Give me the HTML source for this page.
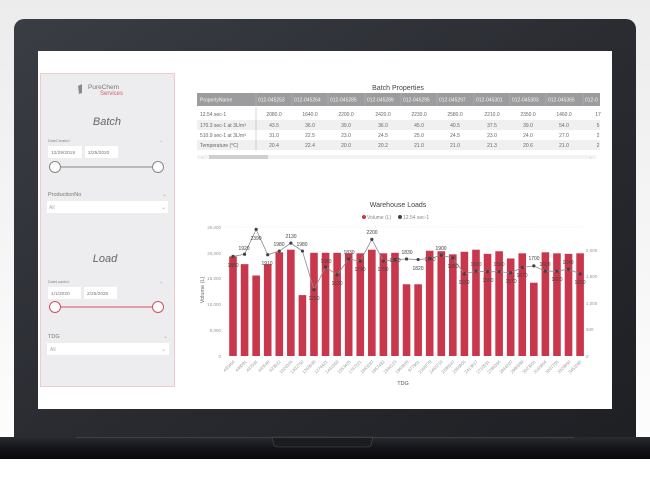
<!DOCTYPE html>
<html><head><meta charset="utf-8"><style>
body{margin:0;width:650px;height:491px;overflow:hidden;background:#fff;font-family:"Liberation Sans",sans-serif}
</style></head><body>
<svg width="650" height="491" viewBox="0 0 650 491" xmlns="http://www.w3.org/2000/svg" font-family="Liberation Sans, sans-serif">
<defs>
<linearGradient id="bg" x1="0" y1="0" x2="0" y2="1"><stop offset="0" stop-color="#ececec"/><stop offset="1" stop-color="#ffffff"/></linearGradient>
<linearGradient id="bz" x1="0" y1="0" x2="1" y2="1"><stop offset="0" stop-color="#3a3d44"/><stop offset="0.5" stop-color="#2a2c32"/><stop offset="1" stop-color="#1e1f23"/></linearGradient>
<linearGradient id="base" x1="0" y1="0" x2="0" y2="1"><stop offset="0" stop-color="#2a2b30"/><stop offset="0.5" stop-color="#141518"/><stop offset="1" stop-color="#0a0a0c"/></linearGradient>
</defs>
<rect width="650" height="491" fill="url(#bg)"/>
<rect x="0" y="460" width="650" height="31" fill="#fff"/>
<rect x="14" y="19" width="622" height="430" rx="10" fill="url(#bz)"/>
<rect x="38" y="51" width="574" height="358" fill="#ffffff"/>
<rect x="0" y="437" width="650" height="22" fill="url(#base)"/>
<path d="M272 437 L373 437 L371 445 Q370 447 366 447 L279 447 Q275 447 274 445 Z" fill="#1c1d21" stroke="#4a4c52" stroke-width="0.6"/>
<line x1="76" y1="437.5" x2="574" y2="437.5" stroke="#55575d" stroke-width="0.6"/>

<rect x="40.5" y="73.5" width="134" height="313" fill="#ededef" stroke="#f2c9cf" stroke-width="1"/>
<path d="M78 86 l4 -2 v9 l-3 1 z" fill="#8a8a8a"/>
<text x="88" y="89" font-size="6.5" fill="#777">PureChem</text>
<text x="100" y="95" font-size="6" fill="#d06070">Services</text>
<text x="107" y="125" font-size="11" font-style="italic" fill="#666" text-anchor="middle">Batch</text>
<text x="48" y="142" font-size="3.8" fill="#888">DateCreated</text>
<text x="159" y="142" font-size="5" fill="#aaa">⌄</text>
<rect x="48" y="146" width="34" height="12" fill="#fff"/><text x="51" y="154" font-size="4.8" fill="#777">12/29/2019</text>
<rect x="85" y="146" width="33" height="12" fill="#fff"/><text x="88" y="154" font-size="4.8" fill="#777">2/25/2020</text>
<line x1="55" y1="167" x2="158" y2="167" stroke="#888" stroke-width="1"/>
<circle cx="55" cy="167" r="5.5" fill="#fff" stroke="#888"/><circle cx="158" cy="167" r="5.5" fill="#fff" stroke="#888"/>
<text x="48" y="196" font-size="5.5" fill="#777">ProductionNo</text>
<text x="162" y="196" font-size="6" fill="#aaa">⌄</text>
<rect x="47" y="201" width="121" height="12" fill="#fff"/><text x="49" y="209" font-size="5" fill="#aaa">All</text>
<text x="161" y="209" font-size="6" fill="#aaa">⌄</text>
<text x="105" y="262" font-size="11" font-style="italic" fill="#666" text-anchor="middle">Load</text>
<text x="48" y="283" font-size="3.8" fill="#888">DateLoaded</text>
<text x="159" y="283" font-size="5" fill="#aaa">⌄</text>
<rect x="48" y="287" width="33" height="12" fill="#fff"/><text x="51" y="295" font-size="4.8" fill="#777">1/1/2020</text>
<rect x="84" y="287" width="33" height="12" fill="#fff"/><text x="87" y="295" font-size="4.8" fill="#777">2/25/2020</text>
<line x1="55" y1="307" x2="158" y2="307" stroke="#d05060" stroke-width="1"/>
<circle cx="55" cy="307" r="5.5" fill="#fff" stroke="#d05060"/><circle cx="158" cy="307" r="5.5" fill="#fff" stroke="#d05060"/>
<text x="48" y="338" font-size="5.5" fill="#777">TDG</text>
<text x="163" y="338" font-size="6" fill="#aaa">⌄</text>
<rect x="47" y="343" width="122" height="12" fill="#fff"/><text x="50" y="351" font-size="5" fill="#aaa">All</text>
<text x="161" y="351" font-size="6" fill="#aaa">⌄</text>

<text x="398" y="90" font-size="7" fill="#444" text-anchor="middle">Batch Properties</text>
<rect x="197" y="93" width="403" height="13" fill="#9c9c9e"/>
<g font-size="5" fill="#f4f4f4">
<text x="200" y="101.5">PropertyName</text>
<text x="258" y="101.5">012-045253</text><text x="294" y="101.5">012-045264</text><text x="330" y="101.5">012-045285</text><text x="367" y="101.5">012-045289</text><text x="403" y="101.5">012-045295</text><text x="439" y="101.5">012-045297</text><text x="476" y="101.5">012-045301</text><text x="512" y="101.5">012-045303</text><text x="548" y="101.5">012-045365</text><text x="585" y="101.5">012-0</text>
</g>
<g stroke="#b8b8ba" stroke-width="0.5"><line x1="256" y1="93" x2="256" y2="106"/><line x1="292" y1="93" x2="292" y2="106"/><line x1="328" y1="93" x2="328" y2="106"/><line x1="365" y1="93" x2="365" y2="106"/><line x1="401" y1="93" x2="401" y2="106"/><line x1="437" y1="93" x2="437" y2="106"/><line x1="474" y1="93" x2="474" y2="106"/><line x1="510" y1="93" x2="510" y2="106"/><line x1="546" y1="93" x2="546" y2="106"/><line x1="583" y1="93" x2="583" y2="106"/></g>
<rect x="197" y="120" width="403" height="10" fill="#f0f0f1"/><rect x="197" y="140" width="403" height="10" fill="#f0f0f1"/>
<line x1="256" y1="107" x2="256" y2="150" stroke="#aaa" stroke-width="0.5"/>
<g font-size="5" fill="#666">
<text x="200" y="116">12.54 sec-1</text><text x="200" y="127">170.3 sec-1 at 3L/m³</text><text x="200" y="137">510.9 sec-1 at 3L/m³</text><text x="200" y="147">Temperature (°C)</text>
</g>
<g font-size="5" fill="#666" text-anchor="middle">
<text x="274" y="116">2080.0</text><text x="310" y="116">1640.0</text><text x="346" y="116">2200.0</text><text x="383" y="116">2420.0</text><text x="419" y="116">2230.0</text><text x="455" y="116">2580.0</text><text x="492" y="116">2210.0</text><text x="528" y="116">2350.0</text><text x="564" y="116">1460.0</text><text x="598" y="116">17</text>
<text x="274" y="127">43.5</text><text x="310" y="127">36.0</text><text x="346" y="127">39.0</text><text x="383" y="127">36.0</text><text x="419" y="127">45.0</text><text x="455" y="127">40.5</text><text x="492" y="127">37.5</text><text x="528" y="127">39.0</text><text x="564" y="127">54.0</text><text x="598" y="127">5</text>
<text x="274" y="137">31.0</text><text x="310" y="137">22.5</text><text x="346" y="137">23.0</text><text x="383" y="137">24.5</text><text x="419" y="137">25.0</text><text x="455" y="137">24.5</text><text x="492" y="137">23.0</text><text x="528" y="137">24.0</text><text x="564" y="137">27.0</text><text x="598" y="137">2</text>
<text x="274" y="147">20.4</text><text x="310" y="147">22.4</text><text x="346" y="147">20.0</text><text x="383" y="147">20.2</text><text x="419" y="147">21.0</text><text x="455" y="147">21.0</text><text x="492" y="147">21.3</text><text x="528" y="147">20.6</text><text x="564" y="147">21.0</text><text x="598" y="147">2</text>
</g>
<rect x="197" y="155" width="399" height="4" fill="#f3f3f3"/><rect x="209" y="155" width="59" height="4" fill="#cfcfcf"/>
<text x="202" y="159" font-size="4" fill="#999">‹</text><text x="590" y="159" font-size="4" fill="#999">›</text>

<text x="398" y="207" font-size="7" fill="#444" text-anchor="middle">Warehouse Loads</text>
<circle cx="364" cy="217" r="2" fill="#c8374c"/><text x="367" y="219" font-size="5" fill="#888">Volume (L)</text>
<circle cx="400" cy="217" r="2" fill="#3f4247"/><text x="403" y="219" font-size="5" fill="#888">12.54 sec-1</text>
<line x1="225" y1="227" x2="585" y2="227" stroke="#ddd" stroke-width="0.5" stroke-dasharray="1,1.5"/>
<g font-size="4.5" fill="#999" text-anchor="end">
<text x="221" y="229">25,000</text><text x="221" y="255">20,000</text><text x="221" y="280">15,000</text><text x="221" y="306">10,000</text><text x="221" y="332">5,000</text><text x="221" y="358">0</text>
</g>
<g font-size="4.5" fill="#999">
<text x="586" y="252">2,000</text><text x="586" y="278">1,500</text><text x="586" y="305">1,000</text><text x="586" y="331">500</text><text x="586" y="358">0</text>
</g>
<text transform="translate(204,290) rotate(-90)" font-size="5.5" fill="#666" text-anchor="middle">Volume (L)</text>
<text x="403" y="385" font-size="5.5" fill="#555" text-anchor="middle">TDG</text>
<g id="bars" fill="#c8374c"></g>
<polyline id="ln" fill="none" stroke="#8a8d92" stroke-width="0.8"/>
<g id="pts" fill="#3f4247"></g>
<g font-size="5" fill="#444" text-anchor="middle">
<text x="233" y="267">1880</text><text x="244" y="250">1920</text><text x="256" y="240">2390</text><text x="267" y="265">1910</text><text x="279" y="246">1980</text><text x="291" y="238">2130</text><text x="302" y="246">1980</text><text x="314" y="300">1250</text><text x="326" y="263">1680</text><text x="337" y="285">1530</text><text x="349" y="254">1830</text><text x="360" y="271">1790</text><text x="372" y="234">2200</text><text x="383" y="271">1790</text><text x="395" y="262">1820</text><text x="407" y="254">1830</text><text x="418" y="270">1820</text><text x="430" y="261">1840</text><text x="441" y="250">1900</text><text x="453" y="268">1850</text><text x="464" y="284">1550</text><text x="476" y="266">1600</text><text x="488" y="282">1590</text><text x="499" y="266">1590</text><text x="511" y="283">1570</text><text x="522" y="277">1670</text><text x="534" y="260">1700</text><text x="545" y="266">1600</text><text x="557" y="281">1600</text><text x="568" y="264">1640</text><text x="580" y="284">1550</text>
</g>
<g font-size="4.3" fill="#999" text-anchor="end">
<text transform="translate(235,362) rotate(-45)">435464</text><text transform="translate(247,362) rotate(-45)">438091</text><text transform="translate(258,362) rotate(-45)">437035</text><text transform="translate(270,362) rotate(-45)">645548</text><text transform="translate(281,362) rotate(-45)">623622</text><text transform="translate(293,362) rotate(-45)">1024326</text><text transform="translate(304,362) rotate(-45)">1302750</text><text transform="translate(316,362) rotate(-45)">1268038</text><text transform="translate(328,362) rotate(-45)">1274421</text><text transform="translate(339,362) rotate(-45)">1431560</text><text transform="translate(351,362) rotate(-45)">1553425</text><text transform="translate(362,362) rotate(-45)">1747221</text><text transform="translate(374,362) rotate(-45)">1883287</text><text transform="translate(385,362) rotate(-45)">1857492</text><text transform="translate(397,362) rotate(-45)">1934123</text><text transform="translate(409,362) rotate(-45)">1960928</text><text transform="translate(420,362) rotate(-45)">877901</text><text transform="translate(432,362) rotate(-45)">2168779</text><text transform="translate(443,362) rotate(-45)">2455718</text><text transform="translate(455,362) rotate(-45)">2296547</text><text transform="translate(466,362) rotate(-45)">2356805</text><text transform="translate(478,362) rotate(-45)">2413817</text><text transform="translate(490,362) rotate(-45)">2710531</text><text transform="translate(501,362) rotate(-45)">2786366</text><text transform="translate(513,362) rotate(-45)">2844207</text><text transform="translate(524,362) rotate(-45)">2990399</text><text transform="translate(536,362) rotate(-45)">3023601</text><text transform="translate(547,362) rotate(-45)">3145864</text><text transform="translate(559,362) rotate(-45)">3207705</text><text transform="translate(571,362) rotate(-45)">3329850</text><text transform="translate(582,362) rotate(-45)">3451085</text>
</g>
</svg>
<script>
var vol=[19300,17800,15600,17800,20100,20600,11800,20000,20000,20000,19900,19900,20600,19900,20000,13900,13900,20400,20300,19700,20200,20600,19800,20300,18900,19900,14200,20100,19900,19800,19900];
var ln=[1880,1920,2390,1910,1980,2130,1980,1250,1680,1530,1830,1790,2200,1790,1820,1830,1820,1840,1900,1850,1550,1600,1590,1590,1570,1670,1700,1600,1600,1640,1550];
var NS="http://www.w3.org/2000/svg",b=document.getElementById('bars'),p=document.getElementById('pts'),pts=[];
for(var i=0;i<31;i++){var x=233+i*11.57,yt=356-vol[i]*0.00516,yp=356-ln[i]*0.053;
var r=document.createElementNS(NS,'rect');r.setAttribute('x',x-3.8);r.setAttribute('y',yt);r.setAttribute('width',7.6);r.setAttribute('height',356-yt);b.appendChild(r);
var c=document.createElementNS(NS,'circle');c.setAttribute('cx',x);c.setAttribute('cy',yp);c.setAttribute('r',1.6);p.appendChild(c);pts.push(x+','+yp);}
document.getElementById('ln').setAttribute('points',pts.join(' '));
</script>
</body></html>
